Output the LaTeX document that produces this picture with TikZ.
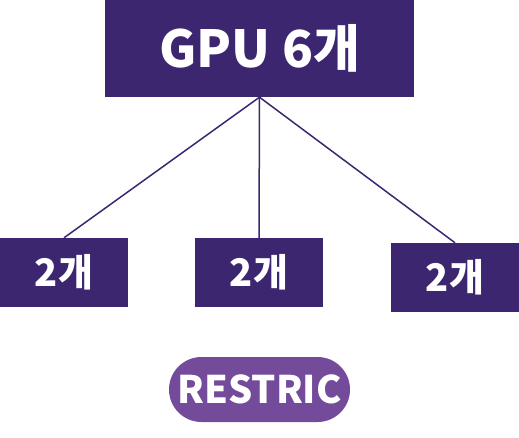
\documentclass[tikz,border=0pt]{standalone}
\usepackage{fontspec}
\usepackage{xcolor}
\usepackage{tikz}
\newfontfamily\kofont{Noto Sans CJK KR}
\definecolor{gpupurple}{HTML}{3C2670}
\definecolor{tagpurple}{HTML}{744A9A}
\tikzset{
  gpubox/.style={fill=gpupurple, text=white, inner sep=0pt, minimum width=309pt, minimum height=97pt,
    font=\kofont\bfseries\fontsize{51}{53}\selectfont},
  cardbox/.style={fill=gpupurple, text=white, inner sep=0pt, minimum width=128pt, minimum height=69pt,
    font=\kofont\bfseries\fontsize{38}{40}\selectfont},
  pilltag/.style={fill=tagpurple, text=white, inner sep=0pt, minimum width=181pt, minimum height=65pt,
    rounded corners=32.5pt, font=\kofont\bfseries\fontsize{38}{40}\selectfont},
  link/.style={draw=gpupurple, line width=1.5pt}
}
\begin{document}
\begin{tikzpicture}[x=1pt, y=-1pt]
    \useasboundingbox (0,0) rectangle (519,438);
    \node[gpubox] (gpus) at (259.5,48.5) {GPU 6개};
    \node[cardbox] (leftcard) at (64,272.5) {2개};
    \node[cardbox] (midcard) at (259,272.5) {2개};
    \node[cardbox] (rightcard) at (455,277.5) {2개};
    \node[pilltag] (restric) at (259.5,389.5) {RESTRIC};
    \draw[link] (gpus.south) -- (leftcard.north);
    \draw[link] (gpus.south) -- (midcard.north);
    \draw[link] (gpus.south) -- (rightcard.north);
  \end{tikzpicture}
\end{document}
